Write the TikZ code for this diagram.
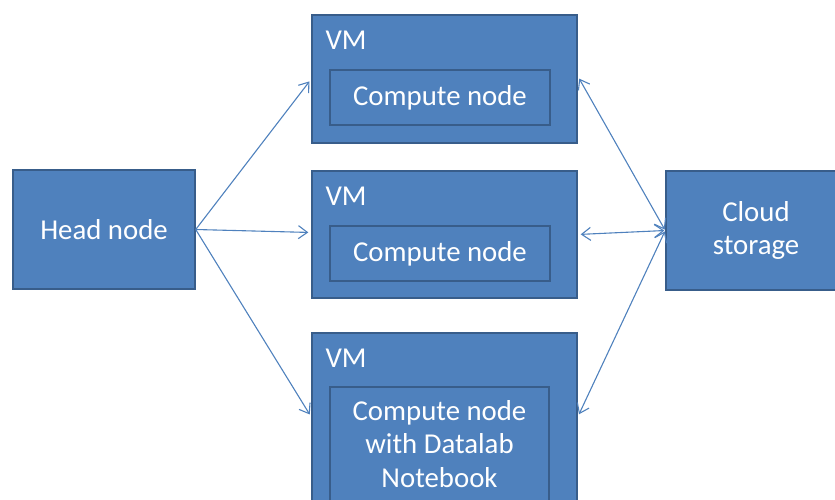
\documentclass[tikz,border=0pt]{standalone}
\usepackage{fontspec}
\setmainfont{Carlito}
\usepackage{tikz}
\usetikzlibrary{arrows.meta}

\definecolor{boxfill}{HTML}{4F81BD}
\definecolor{boxline}{HTML}{385D8A}

\begin{document}
\begin{tikzpicture}[x=1pt, y=-1pt,
    box/.style={draw=boxline, line width=1.4pt, fill=boxfill, text=white,
      align=center, font=\fontsize{28.8}{33.5}\selectfont},
    vmlabel/.style={inner sep=0pt, text=white, font=\fontsize{28.8}{33.5}\selectfont},
    link/.style={draw=boxfill, line width=1.1pt, shorten >=3pt},
    barb/.tip={Straight Barb[length=9pt, width=13pt]}]
    \useasboundingbox (0, 0) rectangle (835, 500);
    \clip (0, 0) rectangle (835, 500);

    \node[box, minimum width=182pt, minimum height=119pt] (head) at (104, 229.5) {Head node};
    \node[box, minimum width=180pt, minimum height=119pt] (cloud) at (756, 230.5) {Cloud\\storage};

    \node[box, minimum width=265pt, minimum height=128pt] (vmA) at (444.5, 79) {};
    \node[box, minimum width=265pt, minimum height=127pt] (vmB) at (444.5, 234.5) {};
    \node[box, minimum width=265pt, minimum height=168pt] (vmC) at (444.5, 417) {};
    \node[vmlabel, anchor=base west] at ([xshift=14pt, yshift=-35pt]vmA.north west) {VM};
    \node[vmlabel, anchor=base west] at ([xshift=14pt, yshift=-35pt]vmB.north west) {VM};
    \node[vmlabel, anchor=base west] at ([xshift=14pt, yshift=-35pt]vmC.north west) {VM};

    \node[box, minimum width=220pt, minimum height=55pt] (compA) at (440, 97.5) {Compute node};
    \node[box, minimum width=220pt, minimum height=55pt] (compB) at (440, 253.5) {Compute node};
    \node[box, minimum width=219pt, minimum height=114pt] (compC) at (439.5, 444) {Compute node\\with Datalab\\Notebook};

    % head node to the VMs
    \draw[link, -{barb}] (head.east) -- (vmA.west);
    \draw[link, -{barb}] (head.east) -- ([yshift=2pt]vmB.west);
    \draw[link, -{barb}] (head.east) -- (vmC.west);

    % storage shared by the VMs
    \draw[link, shorten <=1pt, {barb}-{barb}] (cloud.west) -- ([yshift=3pt]vmA.east);
    \draw[link, shorten <=1pt, {barb}-{barb}] (cloud.west) -- (vmB.east);
    \draw[link, shorten <=1pt, {barb}-{barb}] (cloud.west) -- (vmC.east);
\end{tikzpicture}
\end{document}
